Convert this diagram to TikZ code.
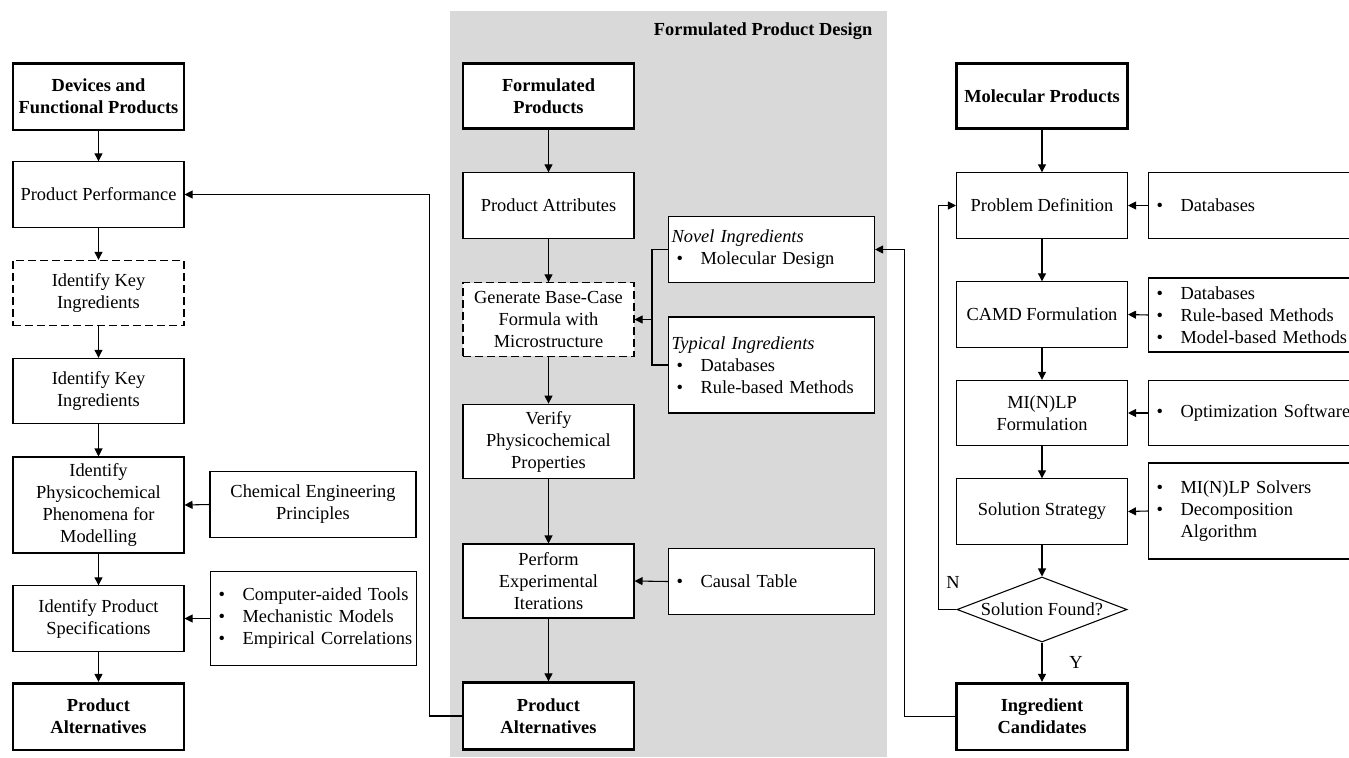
\documentclass[tikz,border=0pt]{standalone}
\usepackage{fontspec}
\setmainfont{Liberation Serif}
\usetikzlibrary{arrows.meta,shapes.geometric}

\definecolor{panelgray}{RGB}{217,217,217}
\newcommand{\dfont}{\fontsize{13.8}{16.5}\selectfont}
\newcommand{\blt}{\hspace*{3.75pt}\makebox[18pt][l]{\textbullet}}
\newcommand{\bltgap}{\hspace*{21.75pt}}
\newcommand{\nohyph}{\hyphenpenalty=10000\relax}

\tikzset{
  stepnode/.style={draw, line width=0.8pt, fill=white, align=center,
    minimum width=128.25pt, minimum height=49pt, inner sep=1pt},
  endnode/.style={stepnode, line width=2pt, font=\dfont\bfseries},
  dashnode/.style={stepnode, dash pattern=on 6pt off 3pt},
  toolnode/.style={draw, line width=0.8pt, fill=white, align=left, anchor=west,
    text width=150pt, minimum height=49pt, inner xsep=2.25pt,
    execute at begin node=\nohyph},
  widetool/.style={toolnode, text width=165pt},
  decision/.style={draw, line width=0.8pt, fill=white, diamond,
    minimum width=127.5pt, minimum height=48.75pt, inner sep=0pt},
  flow/.style={line width=0.8pt, -{Triangle[length=6pt,width=6pt]}},
  link/.style={line width=0.8pt},
}

\begin{document}
\begin{tikzpicture}[x=0.75pt,y=-0.75pt,font=\dfont]
        \useasboundingbox (0,0) rectangle (1349,757);

        % Shaded panel
        \fill[panelgray] (450,11) rectangle (887,757);
        \node[anchor=east, font=\dfont\bfseries] (paneltitle) at (877,31) {Formulated Product Design};

        % Devices and functional products
        \node[endnode, minimum height=50pt] (dev) at (98.5,96.5) {Devices and\\Functional Products};
        \node[stepnode] (perf) at (98.5,194.5) {Product Performance};
        \node[dashnode] (keyd) at (98.5,293) {Identify Key\\Ingredients};
        \node[stepnode] (key) at (98.5,391) {Identify Key\\Ingredients};
        \node[stepnode, minimum height=72pt] (phen) at (98.5,505) {Identify\\Physicochemical\\Phenomena for\\Modelling};
        \node[stepnode] (spec) at (98.5,618.5) {Identify Product\\Specifications};
        \node[endnode, minimum height=50pt] (altl) at (98.5,716.5) {Product\\Alternatives};
        \node[stepnode, minimum width=154.5pt] (chem) at (313,504.5) {Chemical Engineering\\Principles};
        \node[toolnode, minimum height=71pt] (tools) at (210,618.5) {\blt Computer-aided Tools\\\blt Mechanistic Models\\\blt Empirical Correlations};

        % Formulated products
        \node[endnode] (form) at (548.5,96) {Formulated\\Products};
        \node[stepnode] (attr) at (548.5,205.5) {Product Attributes};
        \node[dashnode, minimum height=55pt] (base) at (548.5,319.5) {Generate Base-Case\\Formula with\\Microstructure};
        \node[stepnode, minimum height=56pt] (verify) at (548.5,441.5) {Verify\\Physicochemical\\Properties};
        \node[stepnode, minimum height=55.5pt] (perform) at (548.5,581) {Perform\\Experimental\\Iterations};
        \node[endnode, minimum height=50pt] (altm) at (548.5,716) {Product\\Alternatives};
        \node[toolnode] (novel) at (668,249.5) {\textit{Novel Ingredients}\\\blt Molecular Design};
        \node[toolnode, minimum height=72pt] (typical) at (668,365) {\textit{Typical Ingredients}\\\blt Databases\\\blt Rule-based Methods};
        \node[toolnode] (causal) at (668,581.5) {\blt Causal Table};
        \coordinate (brk) at (652,319.5);

        % Molecular products
        \node[endnode] (mol) at (1042,96) {Molecular Products};
        \node[stepnode] (prob) at (1042,205.5) {Problem Definition};
        \node[stepnode] (camd) at (1042,314.5) {CAMD Formulation};
        \node[stepnode] (minlp) at (1042,413) {MI(N)LP\\Formulation};
        \node[stepnode] (strat) at (1042,511.5) {Solution Strategy};
        \node[decision] (found) at (1042,609.5) {\makebox[0pt]{Solution Found?}};
        \node[endnode, minimum height=50pt] (ingr) at (1042,716.5) {Ingredient\\Candidates};
        \node[widetool] (db1) at (1148,205.5) {\blt Databases};
        \node[widetool, minimum height=55.5pt] (db2) at (1148,315) {\blt Databases\\\blt Rule-based Methods\\\blt Model-based Methods};
        \node[widetool] (opt) at (1148,413) {\blt Optimization Software};
        \node[widetool, minimum height=72pt] (solv) at (1148,511) {\blt MI(N)LP Solvers\\\blt Decomposition\\\bltgap Algorithm};
        \node (nlab) at (953,582) {N};

        % Left flow
        \draw[flow] (dev) -- (perf);
        \draw[flow] (perf) -- (keyd);
        \draw[flow] (keyd) -- (key);
        \draw[flow] (key) -- (phen);
        \draw[flow] (phen) -- (spec);
        \draw[flow] (spec) -- (altl);
        \draw[flow] (chem.west) -- (phen.east);
        \draw[flow] (tools.west) -- (spec.east);

        % Middle flow
        \draw[flow] (form) -- (attr);
        \draw[flow] (attr) -- (base);
        \draw[flow] (base) -- (verify);
        \draw[flow] (verify) -- (perform);
        \draw[flow] (perform) -- (altm);
        \draw[flow] (causal.west) -- (perform.east);
        \draw[link] (novel.west) -| (brk) |- (typical.west);
        \draw[flow] (brk) -- (base.east);
        \draw[flow] (altm.west) -- ++(-32,0) |- (perf.east);

        % Right flow
        \draw[flow] (mol) -- (prob);
        \draw[flow] (prob) -- (camd);
        \draw[flow] (camd) -- (minlp);
        \draw[flow] (minlp) -- (strat);
        \draw[flow] (strat) -- (found);
        \draw[flow] (found) -- node[midway, xshift=25.5pt] {Y} (ingr);
        \draw[flow] (found.west) -- ++(-18,0) |- (prob.west);
        \draw[flow] (db1.west) -- (prob.east);
        \draw[flow] (db2.west) -- (camd.east);
        \draw[flow] (opt.west) -- (minlp.east);
        \draw[flow] (solv.west) -- (strat.east);
        \draw[flow] (ingr.west) -- ++(-51,0) |- (novel.east);
\end{tikzpicture}
\end{document}
